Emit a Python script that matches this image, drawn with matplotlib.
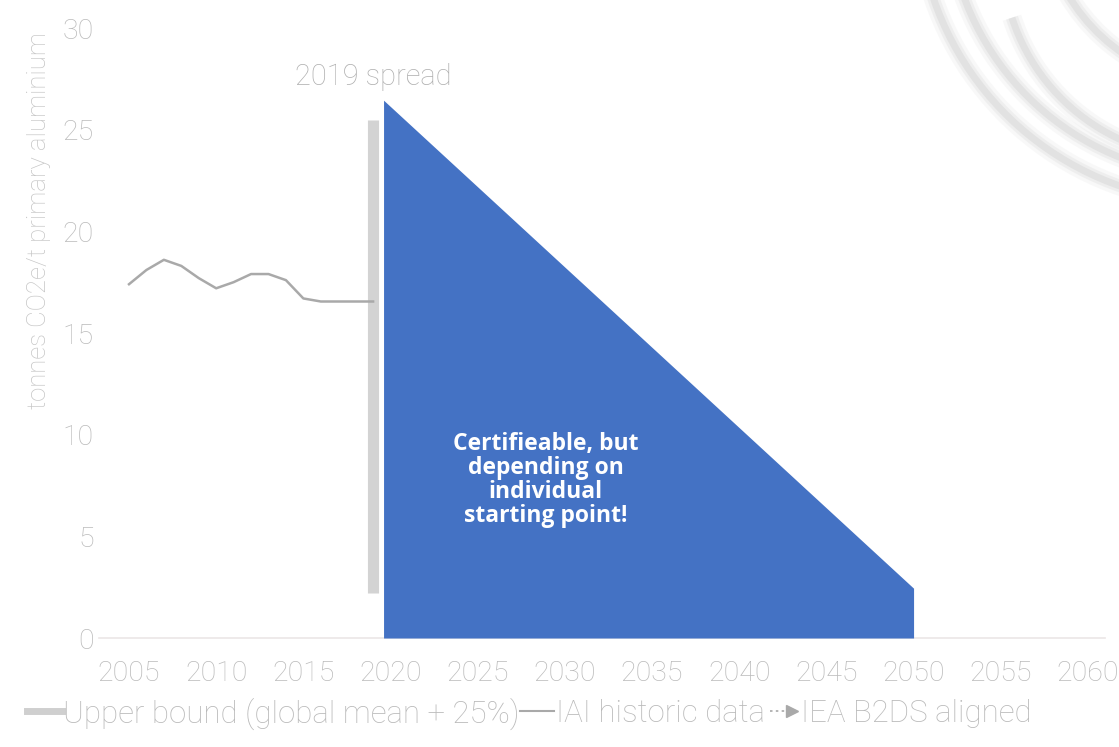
import numpy as np
import matplotlib
matplotlib.use("Agg")
import matplotlib.pyplot as plt
from matplotlib.lines import Line2D
from matplotlib.patches import Arc
from matplotlib.legend_handler import HandlerBase

# IAI historic intensity, tonnes CO2e per tonne of primary aluminium
hist_years = [2005, 2006, 2007, 2008, 2009, 2010, 2011, 2012,
              2013, 2014, 2015, 2016, 2017, 2018, 2019]
hist_values = [17.4, 18.1, 18.6, 18.3, 17.7, 17.2, 17.5, 17.9,
               17.9, 17.6, 16.7, 16.55, 16.55, 16.55, 16.55]

# spread of 2019 plant intensities
spread_year = 2019
spread_low = 2.2
spread_high = 25.5

# certifiable corridor, IEA B2DS aligned
b2ds_years = [2019.6, 2050]
b2ds_values = [26.45, 2.45]

x_ticks = list(range(2005, 2061, 5))
y_ticks = [0, 5, 10, 15, 20, 25, 30]

TXT = "#bababa"
BLUE = "#4472c4"
GREY = "#a9a9a9"


class ArrowLineHandler(HandlerBase):
    """dashed line with an arrow head at its right end"""

    def create_artists(self, legend, orig, xdescent, ydescent, width, height,
                       fontsize, trans):
        y = height / 2 - ydescent
        x1 = width - xdescent
        line = Line2D([-xdescent + 4, x1 - 5], [y, y], color=GREY, lw=1.2,
                      ls=(0, (1.5, 2)))
        tip = Line2D([x1 - 5], [y], marker=">", ms=8, color=GREY, ls="")
        line.set_transform(trans)
        tip.set_transform(trans)
        return [line, tip]


plt.rcParams["font.family"] = ["Roboto", "DejaVu Sans"]

fig = plt.figure(figsize=(11.19, 7.47), dpi=100)

# faint globe logo in the top right corner, drawn in pixel coordinates
bg = fig.add_axes([0, 0, 1, 1], zorder=0)
bg.set_xlim(0, 1119)
bg.set_ylim(747, 0)
bg.axis("off")
logo_arcs = [(1220, -100, 303, 95, 168),
             (1222, -98, 275, 95, 170),
             (1205, -45, 203, 80, 162),
             (1228, -100, 186, 80, 150),
             (1150, -420, 520, 62, 78)]
for (cx, cy, r, t1, t2) in logo_arcs:
    for lw, a in [(14, 0.15), (9, 0.25), (5, 0.45)]:
        bg.add_patch(Arc((cx, cy), 2 * r, 2 * r, theta1=t1, theta2=t2,
                         color="#d4d4d4", lw=lw, alpha=a))

ax = fig.add_axes([0.0888, 0.1459, 0.899, 0.8166], zorder=1)
ax.patch.set_alpha(0)

# corridor polygon
ax.fill_between(b2ds_years, b2ds_values, 0, color=BLUE, lw=0, zorder=3)

# 2019 spread bar
ax.plot([spread_year, spread_year], [spread_low, spread_high],
        color="#d3d3d3", lw=8, solid_capstyle="butt", zorder=2)
ax.text(spread_year, 27.6, "2019 spread", ha="center", va="center",
        fontsize=21, color="#b0b0b0", fontweight="light")

# historic line
ax.plot(hist_years, hist_values, color=GREY, lw=1.8, zorder=4)

ax.text(2028.9, 7.75, "Certifieable, but\ndepending on\nindividual\nstarting point!",
        ha="center", va="center", color="white", fontsize=16.5,
        fontweight="bold", family=["Open Sans", "DejaVu Sans"], linespacing=1.0,
        zorder=5)

ax.set_xlim(2003.3, 2061)
ax.set_ylim(0, 30)
ax.set_xticks(x_ticks)
ax.set_yticks(y_ticks)
ax.tick_params(length=0, labelsize=20.5, labelcolor=TXT)
ax.tick_params(axis="x", pad=16)
ax.tick_params(axis="y", pad=4)
for lab in ax.get_xticklabels() + ax.get_yticklabels():
    lab.set_fontweight("light")

for side in ["top", "right", "left"]:
    ax.spines[side].set_visible(False)
ax.spines["bottom"].set_color("#ebe6e6")
ax.spines["bottom"].set_linewidth(1.2)

ax.set_ylabel("tonnes CO2e/t primary aluminium", fontsize=18.5, color="#c6c6c6",
              fontweight="light")
ax.yaxis.set_label_coords(-0.048, 0.684)

handles = [
    Line2D([], [], color="#cfcfcf", lw=5),
    Line2D([], [], color=GREY, lw=1.5),
    Line2D([], [], color=GREY, lw=1.2, ls="--"),
]
labels = ["Upper bound (global mean + 25%)", "IAI historic data", "IEA B2DS aligned"]
leg = fig.legend(handles, labels, loc="center left", bbox_to_anchor=(0.005, 0.045),
                 ncol=3, frameon=False, fontsize=22.5, handlelength=1.1,
                 handletextpad=0.05, columnspacing=0.0, borderpad=0.2,
                 handler_map={handles[2]: ArrowLineHandler()})
for t in leg.get_texts():
    t.set_color(TXT)
    t.set_fontweight("light")

fig.savefig("out.png", dpi=100)
